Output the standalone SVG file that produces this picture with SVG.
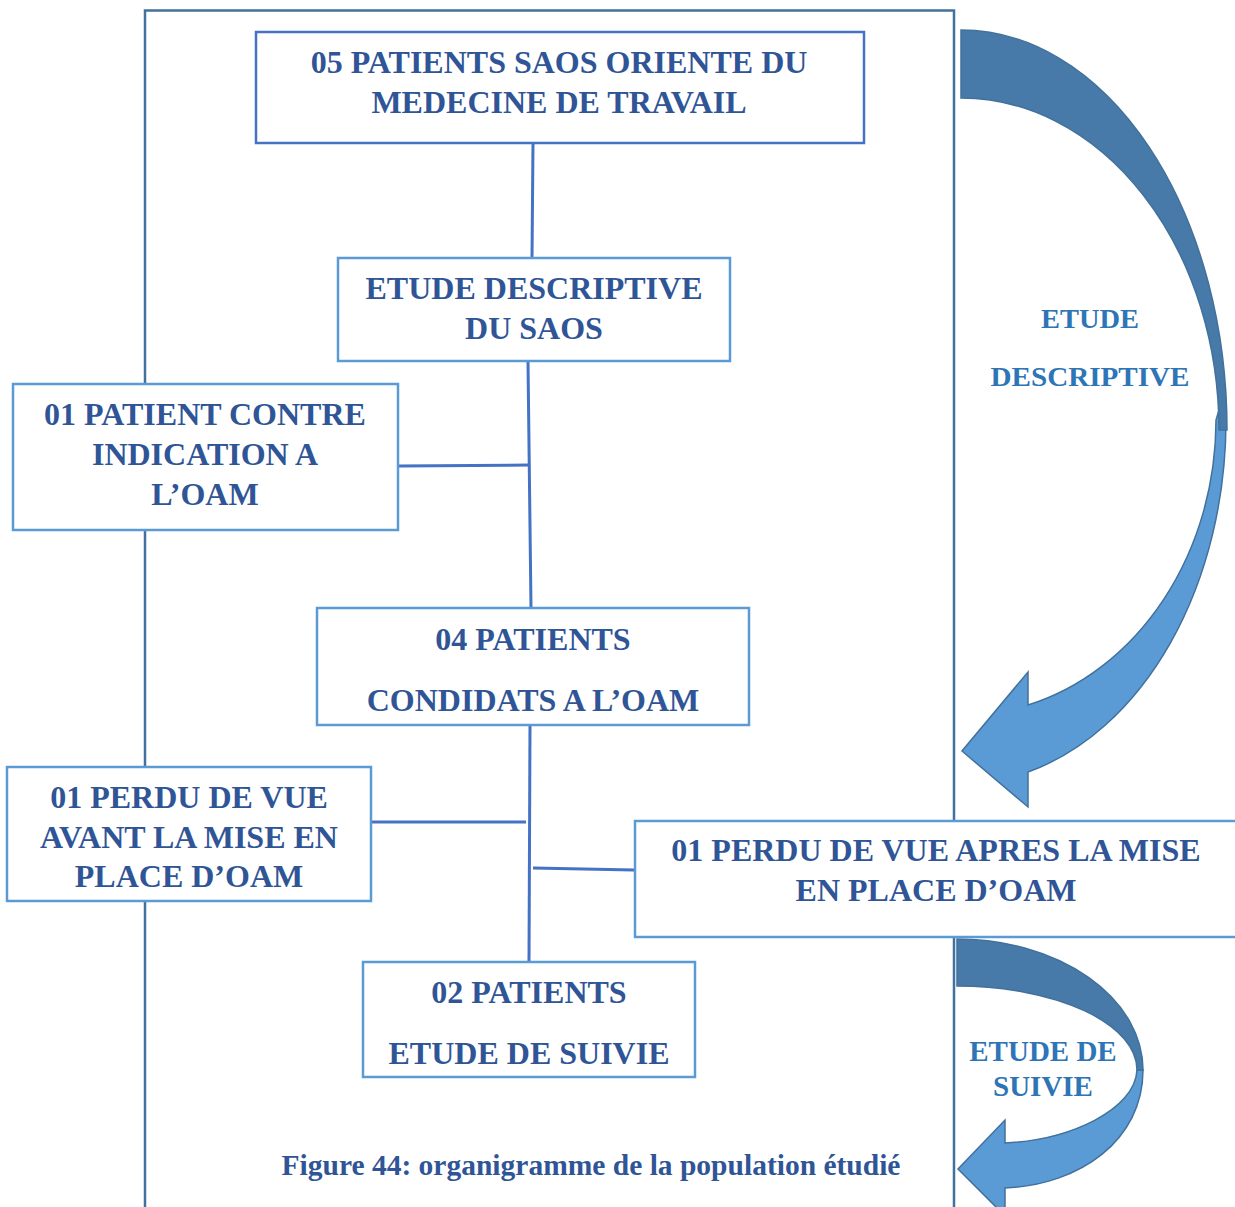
<svg xmlns="http://www.w3.org/2000/svg" width="1235" height="1207" viewBox="0 0 1235 1207">
<style>
.box{fill:#fff;stroke:#5B9BD5;stroke-width:2.5}
.box2{fill:#fff;stroke:#4472C4;stroke-width:2.5}
.t{font-family:"Liberation Serif","Times New Roman",serif;font-weight:bold;font-size:32px;fill:#2F5597;text-anchor:middle}
.lbl{font-family:"Liberation Serif","Times New Roman",serif;font-weight:bold;fill:#2E75B6;text-anchor:middle}
.con{stroke:#4472C4;stroke-width:3;fill:none}
.frame{stroke:#41719C;stroke-width:2.5;fill:none}
.dark{fill:#477AA8;stroke:#41719C;stroke-width:1.5}
.light{fill:#5B9BD5;stroke:#41719C;stroke-width:1.5}
</style>
<rect width="1235" height="1207" fill="#fff"/>
<g id="frame"><path class="frame" d="M145,1210 V10.5 H954 V1210"/></g>
<g id="connectors">
<line class="con" x1="533" y1="143" x2="532" y2="258"/>
<line class="con" x1="528" y1="362" x2="531" y2="608"/>
<line class="con" x1="399" y1="466" x2="529" y2="465"/>
<line class="con" x1="530" y1="726" x2="529" y2="961"/>
<line class="con" x1="372" y1="822" x2="526" y2="822"/>
<line class="con" x1="533" y1="868" x2="634" y2="870"/>
</g>
<g id="arrow-descriptive">
<path class="light" d="M1216,420 L1222,400 L1226,420 A265,364 0 0 1 1028,772 L1028,807 L962,751 L1028,672 L1028,705 A255,295 0 0 0 1216,420 Z"/>
<path class="dark" d="M961,30 A266,400 0 0 1 1227,430 L1219,430 A258,332 0 0 0 961,98 Z"/>
<text class="lbl" font-size="28" x="1090" y="328" textLength="98" lengthAdjust="spacingAndGlyphs">ETUDE</text>
<text class="lbl" font-size="28" x="1090" y="386" textLength="199" lengthAdjust="spacingAndGlyphs">DESCRIPTIVE</text>
</g>
<g id="arrow-suivi">
<path class="light" d="M1143,1070 C1143,1140 1080,1185 1005,1188 L1005,1216 L958,1169 L1005,1120 L1005,1143 C1070,1140 1135,1110 1137,1070 Z"/>
<path class="dark" d="M957,939 A186,131 0 0 1 1143,1070 L1137,1070 A180,84 0 0 0 957,986 Z"/>
<text class="lbl" font-size="29" x="1043" y="1061">ETUDE DE</text>
<text class="lbl" font-size="29" x="1043" y="1096">SUIVIE</text>
</g>
<g id="n1">
<rect class="box2" x="256" y="32" width="608" height="111"/>
<text class="t" x="559" y="73">05 PATIENTS SAOS ORIENTE DU</text>
<text class="t" x="559" y="113">MEDECINE DE TRAVAIL</text>
</g>
<g id="n2">
<rect class="box" x="338" y="258" width="392" height="103"/>
<text class="t" x="534" y="299">ETUDE DESCRIPTIVE</text>
<text class="t" x="534" y="339">DU SAOS</text>
</g>
<g id="n3">
<rect class="box" x="13" y="384" width="385" height="146"/>
<text class="t" x="205" y="425">01 PATIENT CONTRE</text>
<text class="t" x="205" y="465">INDICATION A</text>
<text class="t" x="205" y="505">L’OAM</text>
</g>
<g id="n4">
<rect class="box" x="317" y="608" width="432" height="117"/>
<text class="t" x="533" y="650">04 PATIENTS</text>
<text class="t" x="533" y="711">CONDIDATS A L’OAM</text>
</g>
<g id="n5">
<rect class="box" x="7" y="767" width="364" height="134"/>
<text class="t" x="189" y="808">01 PERDU DE VUE</text>
<text class="t" x="189" y="848">AVANT LA MISE EN</text>
<text class="t" x="189" y="887">PLACE D’OAM</text>
</g>
<g id="n6">
<rect class="box" x="635" y="821" width="610" height="116"/>
<text class="t" x="936" y="861">01 PERDU DE VUE APRES LA MISE</text>
<text class="t" x="936" y="901">EN PLACE D’OAM</text>
</g>
<g id="n7">
<rect class="box" x="363" y="962" width="332" height="115"/>
<text class="t" x="529" y="1003">02 PATIENTS</text>
<text class="t" x="529" y="1064">ETUDE DE SUIVIE</text>
</g>
<text x="591" y="1175" font-family="Liberation Serif,Times New Roman,serif" font-weight="bold" font-size="29.5" fill="#2F5597" text-anchor="middle">Figure 44: organigramme de la population étudié</text>
</svg>
